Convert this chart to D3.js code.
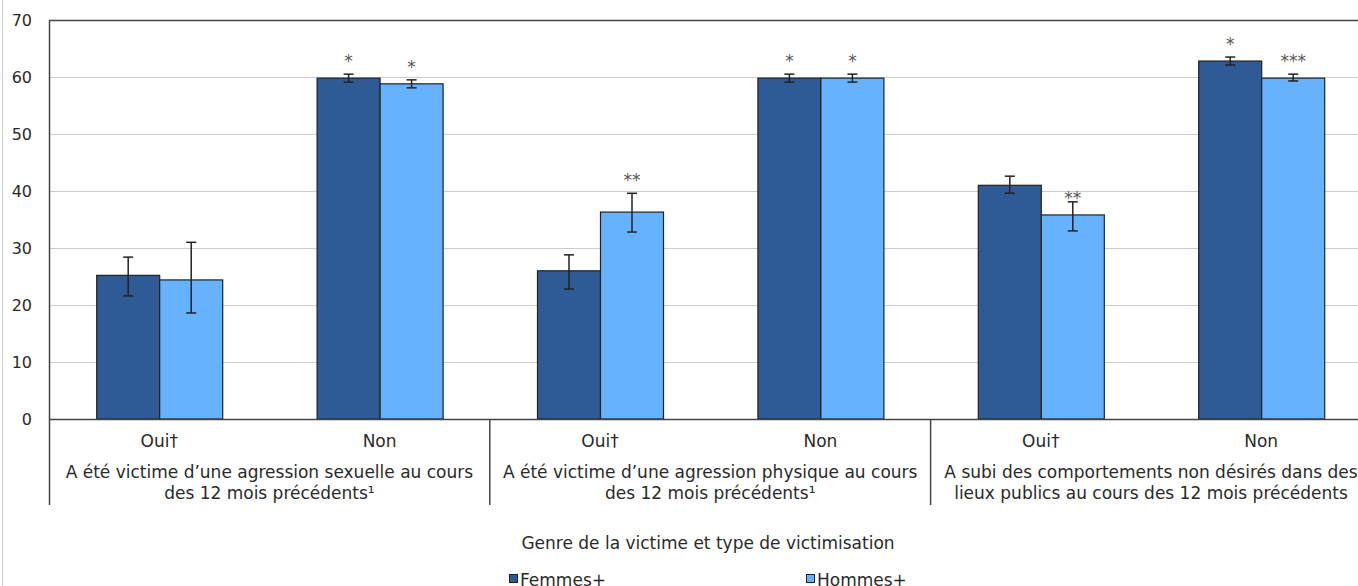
<!DOCTYPE html>
<html><head><meta charset="utf-8">
<script src="https://cdn.jsdelivr.net/npm/d3@7/dist/d3.min.js"></script>
<style>
html,body{margin:0;padding:0;background:#fff;overflow:hidden}
text{font-family:Verdana,"DejaVu Sans",sans-serif;fill:#2a2a2a}
</style></head><body>
<svg id="c" width="1358" height="586"></svg>
<script>
const groups = [
  ["A été victime d’une agression sexuelle au cours", "des 12 mois précédents¹"],
  ["A été victime d’une agression physique au cours", "des 12 mois précédents¹"],
  ["A subi des comportements non désirés dans des", "lieux publics au cours des 12 mois précédents"]
];
const categories = ["Oui†","Non","Oui†","Non","Oui†","Non"];
const series = ["Femmes+","Hommes+"];
const femmes = [25.2, 59.8, 26.0, 59.8, 41.0, 62.8];
const hommes = [24.4, 58.8, 36.3, 59.8, 35.8, 59.8];
const femmesLow  = [21.6, 59.1, 22.8, 59.1, 39.6, 62.1];
const femmesHigh = [28.4, 60.5, 28.8, 60.5, 42.6, 63.5];
const hommesLow  = [18.6, 58.1, 32.8, 59.1, 33.0, 59.3];
const hommesHigh = [31.0, 59.5, 39.6, 60.5, 38.1, 60.5];
const femmesSig = ["", "*", "", "*", "", "*"];
const hommesSig = ["", "*", "**", "*", "**", "***"];
const yTicks = [0,10,20,30,40,50,60,70];
const xTitle = "Genre de la victime et type de victimisation";
const colors = ["#2E5B96","#66B2FF"];

(function(){
const svg = d3.select("#c");
const mLeft = 49, mTop = 20, mBottom = 419;
const mRight = mLeft + 6*220.4;
const fs = "17px";

svg.append("line").attr("x1",2.5).attr("x2",2.5).attr("y1",0).attr("y2",586)
  .attr("stroke","#ccc").attr("stroke-width",1);

const y = d3.scaleLinear().domain([0,70]).range([mBottom, mTop]);
const idx = d3.range(categories.length);
const x = d3.scaleBand().domain(idx).range([mLeft, mRight]).padding(0);
const xs = d3.scaleBand().domain(series).range([0, x.bandwidth()]).paddingInner(0).paddingOuter(0.749);

svg.append("g").selectAll("line").data(yTicks.filter(t=>t>0 && t<70)).join("line")
  .attr("x1",mLeft).attr("x2",mRight).attr("y1",d=>Math.round(y(d))+0.5).attr("y2",d=>Math.round(y(d))+0.5)
  .attr("stroke","#ccc").attr("stroke-width",1);
svg.append("line").attr("x1",mLeft).attr("x2",mRight).attr("y1",mTop+0.5).attr("y2",mTop+0.5)
  .attr("stroke","#444").attr("stroke-width",1.3);

const yAxis = d3.axisLeft(y).tickValues(yTicks).tickSize(0).tickPadding(17);
const gy = svg.append("g").attr("transform",`translate(${mLeft},0)`).call(yAxis);
gy.select(".domain").remove();
gy.selectAll("text").style("font-size","16px").style("font-family","Verdana, 'DejaVu Sans', sans-serif").attr("fill","#2a2a2a");

const rows = idx.map(i => [
  {s:series[0], v:femmes[i], lo:femmesLow[i], hi:femmesHigh[i], sig:femmesSig[i], i},
  {s:series[1], v:hommes[i], lo:hommesLow[i], hi:hommesHigh[i], sig:hommesSig[i], i}
]).flat();

svg.append("g").selectAll("rect").data(rows).join("rect")
  .attr("x", d => x(d.i) + xs(d.s) + 0.5)
  .attr("y", d => y(d.v))
  .attr("width", xs.bandwidth())
  .attr("height", d => y(0) - y(d.v))
  .attr("fill", d => colors[series.indexOf(d.s)])
  .attr("stroke","#222").attr("stroke-width",1.2);

const eb = svg.append("g").attr("stroke","#222").attr("stroke-width",1.5);
rows.forEach(d => {
  const cx = x(d.i) + xs(d.s) + xs.bandwidth()/2 + 0.5;
  eb.append("line").attr("x1",cx).attr("x2",cx).attr("y1",y(d.hi)).attr("y2",y(d.lo));
  eb.append("line").attr("x1",cx-5).attr("x2",cx+5).attr("y1",y(d.hi)).attr("y2",y(d.hi));
  eb.append("line").attr("x1",cx-5).attr("x2",cx+5).attr("y1",y(d.lo)).attr("y2",y(d.lo));
});

rows.filter(d=>d.sig).forEach(d => {
  const cx = x(d.i) + xs(d.s) + xs.bandwidth()/2 + 0.5;
  let cy = y(d.v) - 21;
  if (cy > y(d.hi) - 6) cy = y(d.hi) - 17;
  svg.append("text").attr("x",cx).attr("y",cy+10).attr("text-anchor","middle")
    .style("font-size",fs).attr("fill","#555").style("fill","#555").text(d.sig);
});

svg.append("line").attr("x1",mLeft).attr("x2",mRight).attr("y1",mBottom+0.5).attr("y2",mBottom+0.5)
  .attr("stroke","#444").attr("stroke-width",1.5);
svg.append("line").attr("x1",mLeft+0.5).attr("x2",mLeft+0.5).attr("y1",mTop).attr("y2",505)
  .attr("stroke","#444").attr("stroke-width",1.5);
[2,4,6].forEach(k => {
  const gx = mLeft + k*x.step();
  svg.append("line").attr("x1",gx).attr("x2",gx).attr("y1",mBottom).attr("y2",505)
    .attr("stroke","#444").attr("stroke-width",1.5);
});

svg.append("g").selectAll("text").data(idx).join("text")
  .attr("x", i => x(i) + x.bandwidth()/2)
  .attr("y", 447)
  .attr("text-anchor","middle").style("font-size",fs)
  .text(i => categories[i]);

groups.forEach((g,k) => {
  const gx = mLeft + (2*k+1)*x.step();
  g.forEach((line,j) => {
    svg.append("text").attr("x",gx).attr("y",478 + j*21)
      .attr("text-anchor","middle").style("font-size",fs).text(line);
  });
});

svg.append("text").attr("x",708).attr("y",549).attr("text-anchor","middle")
  .style("font-size",fs).text(xTitle);

const legX = [509, 806];
series.forEach((s,k) => {
  svg.append("rect").attr("x",legX[k]+0.5).attr("y",574.5).attr("width",8).attr("height",8)
    .attr("fill",colors[k]).attr("stroke","#222").attr("stroke-width",1);
  svg.append("text").attr("x",legX[k]+11).attr("y",586).style("font-size",fs).text(s);
});
})();
</script>
</body></html>
